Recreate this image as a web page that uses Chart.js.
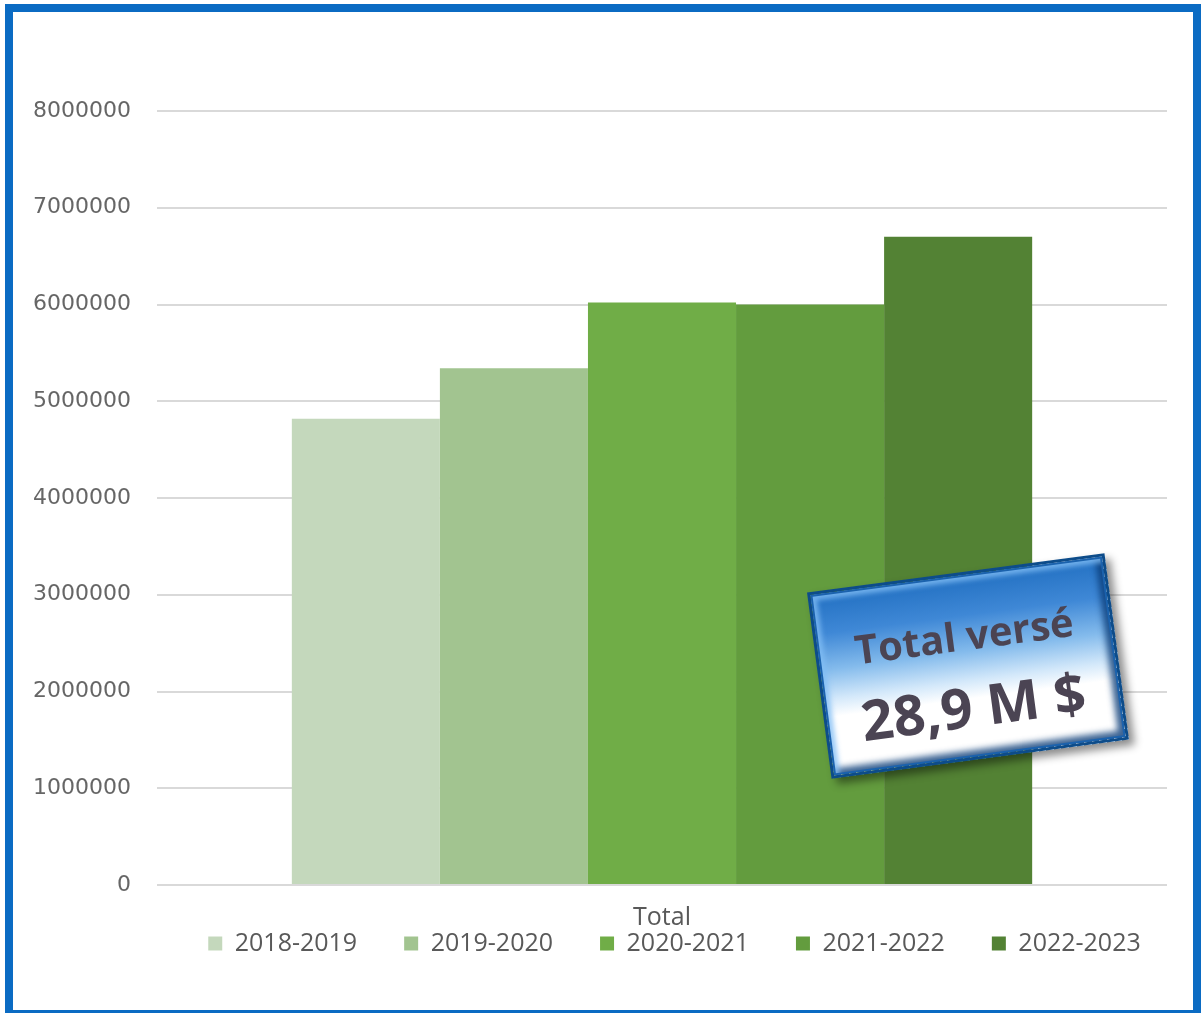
<!DOCTYPE html>
<html lang="fr">
<head>
<meta charset="utf-8">
<title>Total versé</title>
<script src="https://cdn.jsdelivr.net/npm/chart.js@4/dist/chart.umd.min.js"></script>
<style>
    html, body {
        margin: 0;
        padding: 0;
        width: 1202px;
        height: 1013px;
        overflow: hidden;
        background: #ffffff;
    }
    #zone {
        position: absolute;
        left: 0;
        top: 0;
        width: 1202px;
        height: 1040px;
    }
    #cadre {
        position: absolute;
        left: 5px;
        top: 4px;
        width: 1196px;
        height: 1014px;
        box-sizing: border-box;
        border: 8px solid #0b6bc3;
        pointer-events: none;
    }
    #etiquette {
        position: absolute;
        left: 818px;
        top: 572px;
        width: 300px;
        height: 188px;
        box-sizing: border-box;
        transform: rotate(-7.5deg);
        border: 3px solid #0d4c8a;
        background: linear-gradient(to bottom, #2270c2 0%, #3f88d6 22%, #84bbec 42%, #d3e8fa 58%, #ffffff 68%, #ffffff 100%);
        box-shadow: inset 0 0 0 2px #1b62ad, inset 6px 6px 5px rgba(130, 190, 245, 0.8), inset -7px -7px 6px rgba(10, 60, 120, 0.8), 5px 6px 8px rgba(0, 0, 0, 0.45);
        font-family: "Open Sans", sans-serif;
        font-weight: 700;
        color: #4b4453;
        text-align: center;
    }
    #etiquette .l1 {
        position: absolute;
        left: 0;
        right: 0;
        top: 34px;
        font-size: 40px;
        line-height: 52px;
    }
    #etiquette .l2 {
        position: absolute;
        left: 0;
        right: 0;
        top: 94px;
        font-size: 56px;
        line-height: 72px;
    }
</style>
</head>
<body>
<div id="zone"><canvas id="grafico" width="1202" height="1040"></canvas></div>
<div id="cadre"></div>
<div id="etiquette"><div class="l1">Total versé</div><div class="l2">28,9 M $</div></div>

<script>
// Données
const categories = ['Total'];
const annees = ['2018-2019', '2019-2020', '2020-2021', '2021-2022', '2022-2023'];
const montants = [4820000, 5340000, 6020000, 6000000, 6700000];
const couleurs = ['#c4d8bc', '#a2c490', '#70ad47', '#639c3e', '#538234'];
const graduations = [0, 1000000, 2000000, 3000000, 4000000, 5000000, 6000000, 7000000, 8000000];

// Décalage de la légende (elle est collée sous l'étiquette "Total")
const LEGENDE_MONTEE = 67;
const LEGENDE_DECALAGE = 91;

const deplaceLegende = {
    id: 'deplaceLegende',
    afterLayout(chart) {
        const lg = chart.legend;
        if (!lg) return;
        lg.top -= LEGENDE_MONTEE;
        lg.bottom -= LEGENDE_MONTEE;
        lg.left += LEGENDE_DECALAGE;
        lg.right += LEGENDE_DECALAGE;
    }
};

document.addEventListener('DOMContentLoaded', function () {
    const ctx = document.getElementById('grafico').getContext('2d');

    // Une série par année, une seule catégorie
    const datasets = annees.map(function (annee, i) {
        return {
            label: annee,
            data: [montants[i]],
            backgroundColor: couleurs[i],
            borderWidth: 0
        };
    });

    new Chart(ctx, {
        type: 'bar',
        data: {
            labels: categories,
            datasets: datasets
        },
        plugins: [deplaceLegende],
        options: {
            responsive: false,
            animation: false,
            barPercentage: 1,
            categoryPercentage: 0.733,
            layout: {
                padding: { left: 0, right: 35, top: 111, bottom: 9 }
            },
            plugins: {
                tooltip: { enabled: false },
                legend: {
                    position: 'bottom',
                    maxHeight: 80,
                    labels: {
                        boxWidth: 14,
                        boxHeight: 14,
                        padding: 47,
                        color: '#595959',
                        font: { family: 'Open Sans', size: 25 }
                    }
                }
            },
            scales: {
                x: {
                    grid: { display: false, drawTicks: false },
                    border: { display: false },
                    ticks: {
                        color: '#595959',
                        padding: 18,
                        font: { family: 'Open Sans', size: 25 }
                    }
                },
                y: {
                    min: 0,
                    max: 8000000,
                    afterFit: function (axis) {
                        axis.width = 157;
                    },
                    afterBuildTicks: function (axis) {
                        axis.ticks = graduations.map(function (v) { return { value: v }; });
                    },
                    grid: {
                        color: '#d9d9d9',
                        lineWidth: 2,
                        drawTicks: false
                    },
                    border: { display: false },
                    ticks: {
                        color: '#666666',
                        padding: 26,
                        font: { family: 'DejaVu Sans', size: 22 },
                        callback: function (value) {
                            return String(value);
                        }
                    }
                }
            }
        }
    });
});
</script>
</body>
</html>
